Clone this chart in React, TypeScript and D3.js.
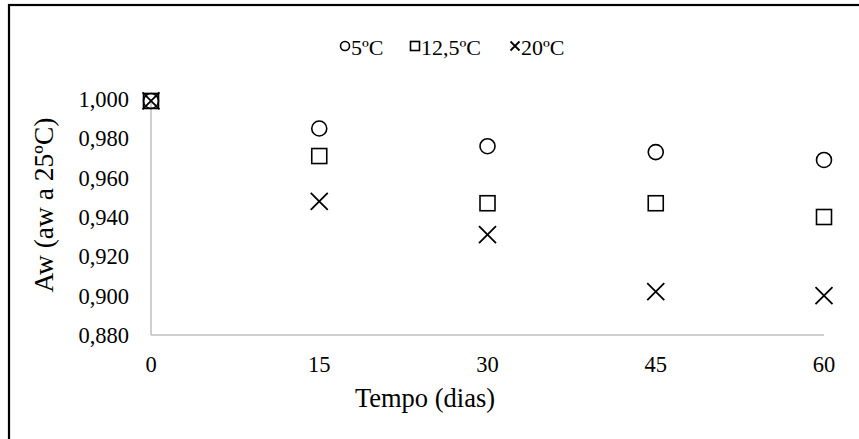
import React, { useEffect, useRef } from 'react';
import * as d3 from 'd3';

// days of storage
const days = [0, 15, 30, 45, 60];
// Aw values
const aw5 = [0.999, 0.985, 0.976, 0.973, 0.969];
const aw125 = [0.999, 0.971, 0.947, 0.947, 0.940];
const aw20 = [0.999, 0.948, 0.931, 0.902, 0.900];
const seriesNames = ['5ºC', '12,5ºC', '20ºC'];
const seriesShapes = ['circle', 'square', 'cross'];
const yTicks = [0.88, 0.9, 0.92, 0.94, 0.96, 0.98, 1.0];
const xTicks = [0, 15, 30, 45, 60];

const W = 859;
const H = 439;
const FONT = '"Liberation Serif", "Times New Roman", serif';

function drawMarker(g: any, shape: string, x: number, y: number, s: number) {
  if (shape === 'circle') {
    g.append('circle').attr('cx', x).attr('cy', y).attr('r', s / 2)
      .attr('fill', 'none').attr('stroke', '#000').attr('stroke-width', 1.6);
  } else if (shape === 'square') {
    g.append('rect').attr('x', x - s / 2).attr('y', y - s / 2).attr('width', s).attr('height', s)
      .attr('fill', 'none').attr('stroke', '#000').attr('stroke-width', 1.6);
  } else {
    const h = s / 2;
    g.append('path')
      .attr('d', `M${x - h},${y - h}L${x + h},${y + h}M${x - h},${y + h}L${x + h},${y - h}`)
      .attr('fill', 'none').attr('stroke', '#000').attr('stroke-width', 1.8);
  }
}

export default function App() {
  const svgRef = useRef<SVGSVGElement>(null);

  useEffect(() => {
    const svg = d3.select(svgRef.current);
    svg.selectAll('*').remove();

    const xScale = d3.scaleLinear().domain([0, 60]).range([151, 824]);
    const yScale = d3.scaleLinear().domain([0.88, 1.0]).range([335, 99]);

    svg.append('rect').attr('width', W).attr('height', H).attr('fill', '#fff');

    // outer frame (only top and left edges visible)
    svg.append('rect')
      .attr('x', 9).attr('y', 5).attr('width', W + 20).attr('height', H + 20)
      .attr('fill', 'none').attr('stroke', '#000').attr('stroke-width', 2.2);

    // axes lines
    svg.append('line')
      .attr('x1', xScale(0)).attr('x2', xScale(60))
      .attr('y1', yScale(0.88)).attr('y2', yScale(0.88))
      .attr('stroke', '#bfbfbf').attr('stroke-width', 1.5);
    svg.append('line')
      .attr('x1', xScale(0)).attr('x2', xScale(0))
      .attr('y1', yScale(0.88)).attr('y2', yScale(1.0))
      .attr('stroke', '#bfbfbf').attr('stroke-width', 1.5);

    const fmt = (v: number) => v.toFixed(3).replace('.', ',');

    svg.append('g').selectAll('text').data(yTicks).join('text')
      .attr('x', 129).attr('y', d => yScale(d)).attr('dy', '0.35em')
      .attr('text-anchor', 'end')
      .style('font-family', FONT).style('font-size', '22.5px')
      .text(d => fmt(d));

    svg.append('g').selectAll('text').data(xTicks).join('text')
      .attr('x', d => xScale(d)).attr('y', 364).attr('dy', '0.35em')
      .attr('text-anchor', 'middle')
      .style('font-family', FONT).style('font-size', '22.5px')
      .text(d => d);

    // axis titles
    svg.append('text')
      .attr('x', 425).attr('y', 407)
      .attr('text-anchor', 'middle')
      .style('font-family', FONT).style('font-size', '26.5px')
      .text('Tempo (dias)');

    svg.append('text')
      .attr('transform', `translate(53,205) rotate(-90)`)
      .attr('text-anchor', 'middle')
      .style('font-family', FONT).style('font-size', '27.5px')
      .text('Aw (aw a 25ºC)');

    // data points
    const series = [aw5, aw125, aw20];
    const pts = svg.append('g');
    series.forEach((vals, si) => {
      vals.forEach((v, i) => {
        drawMarker(pts, seriesShapes[si], xScale(days[i]), yScale(v), si === 2 ? 17 : 15);
      });
    });

    // legend
    const legendX = [345, 415, 515];
    const leg = svg.append('g');
    seriesNames.forEach((name, i) => {
      drawMarker(leg, seriesShapes[i], legendX[i], 46, 9);
      leg.append('text')
        .attr('x', legendX[i] + 6).attr('y', 55)
        .style('font-family', FONT).style('font-size', '22px')
        .text(name);
    });
  }, []);

  return (
    <svg
      ref={svgRef}
      width={W}
      height={H}
      style={{ position: 'absolute', left: 0, top: 0 }}
    />
  );
}
